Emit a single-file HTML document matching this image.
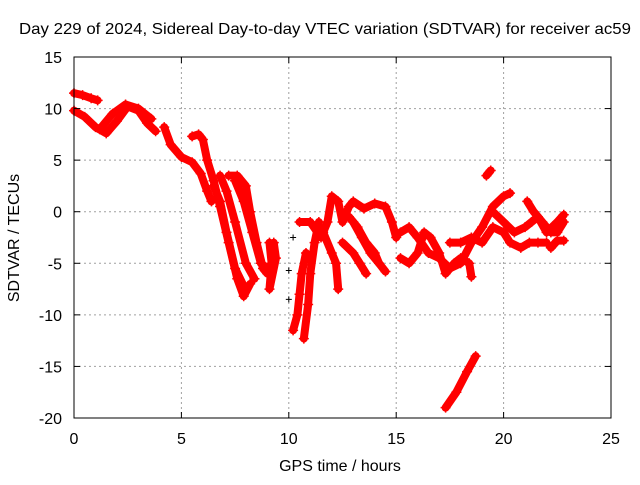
<!DOCTYPE html>
<html><head><meta charset="utf-8"><style>
body{margin:0;background:#fff}
svg text{font-family:"Liberation Sans",sans-serif;font-size:16px;fill:#000}
</style></head><body>
<svg id="chart" width="640" height="480">
<rect width="640" height="480" fill="#fff"/>
<g id="grid"></g>
<g id="series"></g>
<rect x="74" y="57" width="537" height="361" fill="none" stroke="#000"/>
<g id="ticks"></g>
<text x="325" y="34" text-anchor="middle" textLength="612" lengthAdjust="spacingAndGlyphs">Day 229 of 2024, Sidereal Day-to-day VTEC variation (SDTVAR) for receiver ac59</text>
<text x="340" y="471" text-anchor="middle">GPS time / hours</text>
<text transform="translate(19,238) rotate(-90)" text-anchor="middle">SDTVAR / TECUs</text>
</svg>
<script>
const xTicks=[0,5,10,15,20,25];
const yTicks=[15,10,5,0,-5,-10,-15,-20];
const tracks=[
[[0,11.5],[0.4,11.3],[0.8,11],[1.1,10.8]],
[[0,9.8],[0.5,9.2],[1,8.2],[1.5,7.6],[2,8.8],[2.5,10.2],[3,9.8],[3.4,8.6],[3.8,7.8]],
[[1.2,8],[1.8,9.5],[2.4,10.4],[3,10],[3.6,9]],
[[4.2,8.2],[4.5,6.5],[5,5.3],[5.5,4.8],[5.9,3.7],[6.2,2],[6.4,1]],
[[5.5,7.3],[5.8,7.5],[6,7],[6.2,5],[6.5,3],[6.8,0.5],[7.2,-3],[7.6,-6.5],[7.9,-8.2],[8.2,-7]],
[[6.5,2.5],[6.8,1],[7.1,-2],[7.5,-5.5],[7.9,-7.2]],
[[6.8,3.5],[7.1,2],[7.5,-1],[8,-5],[8.4,-6.5]],
[[7.2,3.5],[7.6,3.5],[8,2.5],[8.2,0],[8.5,-3],[8.8,-5.5],[9,-6]],
[[7.5,3],[7.9,1],[8.3,-2],[8.7,-5],[9,-5.5]],
[[9.1,-3],[9.2,-5],[9.1,-7.5],[9.4,-4.5],[9.3,-3]],
[[10.2,-11.5],[10.4,-10],[10.5,-8],[10.6,-6],[10.8,-4]],
[[10.7,-12.3],[10.9,-9],[11,-6],[11.2,-3],[11.4,-1]],
[[10.5,-1],[11,-1],[11.5,-2.5],[11.8,-1],[12,1.5],[12.3,1],[12.5,-1],[12.8,0.5],[13,1],[13.5,0.3],[14,0.8],[14.5,0.5],[14.8,-1],[15,-2.5]],
[[11.6,-2],[12,-4],[12.2,-5],[12.3,-7.5]],
[[12.5,-3],[13,-4],[13.3,-5],[13.6,-6]],
[[13,-1],[13.4,-2.5],[13.8,-4],[14.2,-5],[14.5,-5.8]],
[[12.8,-0.5],[13.2,-1.5],[13.6,-3],[14,-4],[14.2,-5]],
[[15.2,-2],[15.6,-1.5],[16,-2.5],[16.5,-4],[17,-4.5],[17.5,-5.5],[18,-5],[18.5,-3],[19,-1.5],[19.5,0.5],[20,1.5],[20.3,1.8]],
[[15.2,-4.5],[15.6,-5],[16,-4],[16.3,-2],[16.6,-2.5],[17,-4],[17.3,-6],[17.7,-5],[18,-4.5],[18.4,-5],[18.5,-6.3]],
[[17.3,-19],[17.8,-17.5],[18.3,-15.5],[18.7,-14]],
[[19.2,3.5],[19.4,4]],
[[17.5,-3],[18,-3],[18.5,-2.5],[19,-3],[19.5,-1.5],[20,-2],[20.3,-3],[20.8,-3.5],[21.2,-3],[21.6,-3],[22,-3]],
[[19.5,0],[20,-1],[20.5,-2],[21,-1.5],[21.3,-1],[21.6,-0.5],[22,-2],[22.5,-1],[22.8,-0.3]],
[[21.1,1],[21.4,0],[21.8,-1],[22.2,-2],[22.5,-2],[22.8,-1]],
[[22.2,-3.5],[22.5,-2.8],[22.8,-2.8]]
];
const blackPts=[[10,-5.7],[10,-8.5],[10.2,-2.5]];
const X=t=>74+t*537/25, Y=v=>57+(15-v)*361/35;
const NS='http://www.w3.org/2000/svg';
const mk=(tag,attrs,parent)=>{const e=document.createElementNS(NS,tag);for(const k in attrs)e.setAttribute(k,attrs[k]);parent.appendChild(e);return e;};
const grid=document.getElementById('grid'),ticks=document.getElementById('ticks'),ser=document.getElementById('series');
xTicks.forEach(t=>{
 if(t>0&&t<25){const l=mk('line',{x1:X(t),x2:X(t),y1:57,y2:418,stroke:'#a0a0a0','stroke-dasharray':'2,3'},grid);
 }
 mk('line',{x1:X(t),x2:X(t),y1:418,y2:412,stroke:'#000'},ticks);mk('line',{x1:X(t),x2:X(t),y1:57,y2:63,stroke:'#000'},ticks);
 const tx=mk('text',{x:X(t),y:444,'text-anchor':'middle'},ticks);tx.textContent=t;
 
});
yTicks.forEach(v=>{
 if(v<15&&v>-20){const l=mk('line',{x1:74,x2:611,y1:Y(v),y2:Y(v),stroke:'#a0a0a0','stroke-dasharray':'2,3'},grid);
 }
 mk('line',{x1:74,x2:80,y1:Y(v),y2:Y(v),stroke:'#000'},ticks);mk('line',{x1:611,x2:605,y1:Y(v),y2:Y(v),stroke:'#000'},ticks);
 const tx=mk('text',{x:62,y:Y(v)+6,'text-anchor':'end'},ticks);tx.textContent=v;
 
});
tracks.forEach(tr=>{
 const p=mk('polyline',{points:tr.map(d=>X(d[0])+','+Y(d[1])).join(' '),fill:'none',stroke:'#f00','stroke-width':8,'stroke-linejoin':'round','stroke-linecap':'round'},ser);
 
 
 tr.forEach(d=>{const m=mk('path',{d:`M${X(d[0])-5},${Y(d[1])}h10M${X(d[0])},${Y(d[1])-5}v10`,stroke:'#f00','stroke-width':1.5},ser);
  
  });
});
blackPts.forEach(d=>{const m=mk('path',{d:`M${X(d[0])-3},${Y(d[1])}h6M${X(d[0])},${Y(d[1])-3}v6`,stroke:'#000','stroke-width':1},ser);
 
 });
</script>
</body></html>
